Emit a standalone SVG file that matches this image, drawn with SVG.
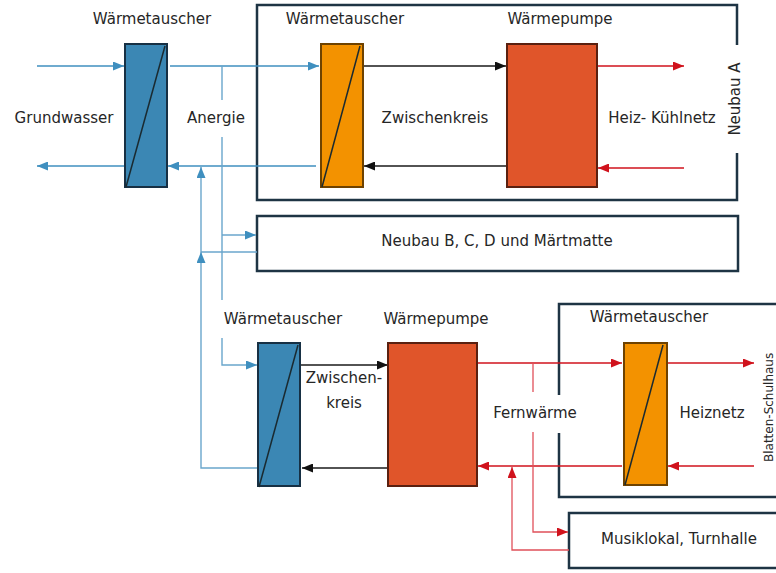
<svg xmlns="http://www.w3.org/2000/svg" width="776" height="573" viewBox="0 0 776 573">
  <style>
    .lbl { font-family: "DejaVu Sans", "Liberation Sans", sans-serif; font-size: 15px; fill: #262626; }
    .mid { text-anchor: middle; dominant-baseline: central; }
    .frame { fill: none; stroke: #1e3444; stroke-width: 2.5; }
    .hx-blue { fill: #3b87b4; stroke: #173044; stroke-width: 2; }
    .hx-orange { fill: #f39200; stroke: #6e4200; stroke-width: 2; }
    .pump { fill: #e0552a; stroke: #5a2010; stroke-width: 2; }
    .diag { stroke: #1a2a30; stroke-width: 1.5; }
    .blue { fill: none; stroke: #3f8fbf; stroke-width: 1.4; }
    .blue-lt { fill: none; stroke: #6aa6cc; stroke-width: 1.4; }
    .black { fill: none; stroke: #1a1a1a; stroke-width: 1.3; }
    .red { fill: none; stroke: #d0121c; stroke-width: 1.3; }
    .red-lt { fill: none; stroke: #e0505a; stroke-width: 1.3; }
  </style>
  <defs>
    <marker id="ah-blue" markerUnits="userSpaceOnUse" markerWidth="11" markerHeight="9" refX="11" refY="4.5" orient="auto">
      <path d="M0,0 L11,4.5 L0,9 z" fill="#3f8fbf"/>
    </marker>
    <marker id="ah-black" markerUnits="userSpaceOnUse" markerWidth="11" markerHeight="9" refX="11" refY="4.5" orient="auto">
      <path d="M0,0 L11,4.5 L0,9 z" fill="#111"/>
    </marker>
    <marker id="ah-red" markerUnits="userSpaceOnUse" markerWidth="11" markerHeight="9" refX="11" refY="4.5" orient="auto">
      <path d="M0,0 L11,4.5 L0,9 z" fill="#d0121c"/>
    </marker>
  </defs>

  <rect width="776" height="573" fill="#ffffff"/>

  <!-- building frames -->
  <g id="neubau-a">
    <path class="frame" d="M737,45 V5 H257 V200 H737 V153"/>
    <text class="lbl mid" transform="translate(735,99) rotate(-90)">Neubau A</text>
  </g>
  <g id="neubau-bcd">
    <rect class="frame" x="257" y="216" width="481" height="55"/>
    <text class="lbl mid" x="497" y="241">Neubau B, C, D und Märtmatte</text>
  </g>
  <g id="schulhaus">
    <path class="frame" d="M559,395 V304 H780 M559,433 V497 H780"/>
    <text class="lbl" style="font-size:12px" transform="translate(773,462) rotate(-90)">Blatten-Schulhaus</text>
  </g>
  <g id="musiklokal">
    <rect class="frame" x="569" y="513" width="220" height="55"/>
    <text class="lbl mid" x="679" y="539">Musiklokal, Turnhalle</text>
  </g>

  <!-- connectors -->
  <g id="connectors">
    <!-- groundwater / anergy loop -->
    <path class="blue" d="M37,66 H124" marker-end="url(#ah-blue)"/>
    <path class="blue" d="M170,66 H319" marker-end="url(#ah-blue)"/>
    <path class="blue" d="M316,166 H168" marker-end="url(#ah-blue)"/>
    <path class="blue" d="M124,166 H37" marker-end="url(#ah-blue)"/>
    <path class="blue-lt" d="M222,66 V100 M222,137 V300"/>
    <path class="blue-lt" d="M222,235 H256" marker-end="url(#ah-blue)"/>
    <path class="blue-lt" d="M222,338 V365 H257" marker-end="url(#ah-blue)"/>
    <path class="blue-lt" d="M257,252 H201"/>
    <path class="blue-lt" d="M258,468 H201 V252" marker-end="url(#ah-blue)"/>
    <path class="blue-lt" d="M201,252 V167" marker-end="url(#ah-blue)"/>

    <!-- intermediate circuits -->
    <path class="black" d="M363,66 H506" marker-end="url(#ah-black)"/>
    <path class="black" d="M507,166 H364" marker-end="url(#ah-black)"/>
    <path class="black" d="M301,365 H388" marker-end="url(#ah-black)"/>
    <path class="black" d="M388,468 H302" marker-end="url(#ah-black)"/>

    <!-- heating networks -->
    <path class="red" d="M597,66 H684" marker-end="url(#ah-red)"/>
    <path class="red" d="M684,168 H598" marker-end="url(#ah-red)"/>
    <path class="red" d="M477,363 H622" marker-end="url(#ah-red)"/>
    <path class="red" d="M667,363 H754" marker-end="url(#ah-red)"/>
    <path class="red" d="M754,466 H668" marker-end="url(#ah-red)"/>
    <path class="red" d="M622,466 H478" marker-end="url(#ah-red)"/>
    <path class="red-lt" d="M533,363 V392 M533,432 V532 H568" marker-end="url(#ah-red)"/>
    <path class="red-lt" d="M569,550 H512 V467" marker-end="url(#ah-red)"/>
  </g>

  <!-- equipment -->
  <g id="hx-grundwasser">
    <rect class="hx-blue" x="125" y="44" width="42" height="143"/>
    <line class="diag" x1="126" y1="187" x2="165" y2="46"/>
    <text class="lbl mid" x="152" y="19">Wärmetauscher</text>
  </g>
  <g id="hx-neubau-a">
    <rect class="hx-orange" x="321" y="44" width="42" height="143"/>
    <line class="diag" x1="322" y1="187" x2="360" y2="46"/>
    <text class="lbl mid" x="345" y="19">Wärmetauscher</text>
  </g>
  <g id="wp-neubau-a">
    <rect class="pump" x="507" y="44" width="90" height="143"/>
    <text class="lbl mid" x="560" y="19">Wärmepumpe</text>
  </g>
  <g id="hx-zentrale">
    <rect class="hx-blue" x="258" y="343" width="42" height="143"/>
    <line class="diag" x1="259" y1="487" x2="298" y2="345"/>
    <text class="lbl mid" x="283" y="319">Wärmetauscher</text>
  </g>
  <g id="wp-zentrale">
    <rect class="pump" x="388" y="343" width="89" height="143"/>
    <text class="lbl mid" x="436" y="319">Wärmepumpe</text>
  </g>
  <g id="hx-schulhaus">
    <rect class="hx-orange" x="624" y="343" width="43" height="142"/>
    <line class="diag" x1="625" y1="485" x2="663" y2="345"/>
    <text class="lbl mid" x="649" y="317">Wärmetauscher</text>
  </g>

  <!-- circuit labels -->
  <g id="labels">
    <text class="lbl mid" x="64" y="118">Grundwasser</text>
    <text class="lbl mid" x="216" y="118">Anergie</text>
    <text class="lbl mid" x="435" y="118">Zwischenkreis</text>
    <text class="lbl mid" x="662" y="118">Heiz- Kühlnetz</text>
    <text class="lbl mid" x="344" y="378">Zwischen-</text>
    <text class="lbl mid" x="344" y="403">kreis</text>
    <text class="lbl mid" x="535" y="413">Fernwärme</text>
    <text class="lbl mid" x="712" y="413">Heiznetz</text>
  </g>
</svg>
